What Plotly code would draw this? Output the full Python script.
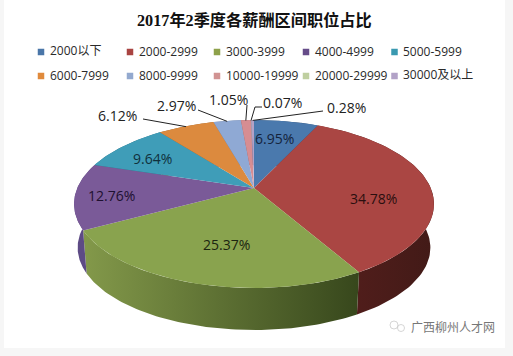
import numpy as np
import plotly.graph_objects as go

categories = ["2000以下", "2000-2999", "3000-3999", "4000-4999", "5000-5999",
              "6000-7999", "8000-9999", "10000-19999", "20000-29999", "30000及以上"]
shares = [6.95, 34.78, 25.37, 12.76, 9.64, 6.12, 2.97, 1.05, 0.07, 0.28]
top_colors = ["#4a79ad", "#aa4643", "#89a34e", "#7a5a98", "#3f9db8",
              "#dc8a3e", "#8fa9d4", "#d68d92", "#c3d69b", "#b2a2c7"]
legend_colors = ["#4a76a8", "#a94442", "#8ea14a", "#664c89", "#3a99b0",
                 "#e08a3c", "#93a9cf", "#d19392", "#bfcfa0", "#b2a2c7"]
side_scales = [
    ["#2f4c70", "#2f4c70"], ["#571f1d", "#421a17"], ["#83994a", "#37471c"],
    ["#5d4b85", "#5d4b85"], ["#2a6a7c", "#2a6a7c"], ["#96602a", "#96602a"],
    ["#64759a", "#64759a"], ["#96605f", "#96605f"], ["#8a9a6a", "#8a9a6a"], ["#7a7090", "#7a7090"],
]

CX, CY, A, B, P = 254.0, 188.0, 176.7, 81.0, 0.19
DROP, SHRINK = 44.0, 0.98


def project(theta, floor=False):
    u, v = np.sin(theta), np.cos(theta)
    w = 1 + P * v
    s = SHRINK if floor else 1.0
    return CX + s * A * u / w, CY + (DROP if floor else 0) - s * B * v / w


cum = np.concatenate([[0], np.cumsum(shares)]) / sum(shares) * 2 * np.pi
fig = go.Figure()

# page edge tint of the screenshot
for x0, y0, x1, y1 in [(0, 348, 513, 356), (505, 0, 513, 356), (0, 0, 4, 356)]:
    fig.add_shape(type="rect", x0=x0, y0=y0, x1=x1, y1=y1, fillcolor="#f6f6f6", line_width=0, layer="below")

for i in range(len(shares)):
    t = np.linspace(cum[i], cum[i + 1], 80)
    xt, yt = project(t)
    xb, yb = project(t[::-1], floor=True)
    fig.add_trace(go.Scatter(
        x=np.concatenate([xt, xb]), y=np.concatenate([yt, yb]), mode="lines", line_width=0,
        fill="toself", hoverinfo="skip", showlegend=False,
        fillgradient=dict(type="horizontal", colorscale=[[0, side_scales[i][0]], [1, side_scales[i][1]]]),
    ))
for i in range(len(shares)):
    t = np.linspace(cum[i], cum[i + 1], 80)
    xt, yt = project(t)
    fig.add_trace(go.Scatter(
        x=np.concatenate([[CX], xt, [CX]]), y=np.concatenate([[CY], yt, [CY]]),
        mode="lines", line=dict(width=0), fill="toself", fillcolor=top_colors[i],
        hoverinfo="skip", showlegend=False,
    ))

# leader lines: from slice rim to an elbow beside the label
elbows = {5: [(143, 119)], 6: [(198, 110)], 7: [(247, 105)], 8: [(255, 107), (262, 107)], 9: [(323, 111)]}
for i, pts in elbows.items():
    ax, ay = project((cum[i] + cum[i + 1]) / 2)
    xs = [float(ax) + 0.0] + [p[0] for p in pts]
    ys = [float(ay) + 0.5] + [p[1] for p in pts]
    fig.add_trace(go.Scatter(x=xs, y=ys, mode="lines", line=dict(color="#222", width=1),
                             hoverinfo="skip", showlegend=False))

# legend
legend_x = [41, 130, 217, 306, 394.5]
legend_y = [52, 76]
for i, name in enumerate(categories):
    lx, ly = legend_x[i % 5], legend_y[i // 5]
    fig.add_trace(go.Scatter(x=[lx], y=[ly], mode="markers", hoverinfo="skip", showlegend=False,
                             marker=dict(symbol="square", size=6.5, color=legend_colors[i])))
    cjk = any(ord(ch) > 127 for ch in name)
    fig.add_annotation(x=lx + 6.5, y=ly - (2 if cjk else 0.5), text=name, showarrow=False, xanchor="left", yanchor="middle",
                       font=dict(family="Open Sans, Noto Sans CJK SC", size=12, color="#2a2a2a"))

# value labels
label_pos = [(274, 138), (373, 198), (226, 244), (111, 195), (152, 158),
             (117, 115), (176, 105), (228, 99), (282, 102), (346, 107)]
label_col = ["#14233c", "#2a0f0f", "#1c2510", "#1e1030", "#10303c", "#222", "#222", "#222", "#222", "#222"]
for v, (lx, ly), c in zip(shares, label_pos, label_col):
    fig.add_annotation(x=lx, y=ly, text=f"{v:.2f}%", showarrow=False,
                       font=dict(family="Open Sans", size=14, color=c))

fig.add_annotation(x=254, y=20, text="<b>2017年2季度各薪酬区间职位占比</b>", showarrow=False,
                   font=dict(family="Liberation Serif, Noto Sans CJK SC", size=16.2, color="#111"))

# watermark
fig.add_trace(go.Scatter(x=[394, 401], y=[325, 328], mode="markers", hoverinfo="skip", showlegend=False,
                         marker=dict(symbol="circle-open", size=[8, 7], color="#c4c4c4", line=dict(width=1, color="#c4c4c4"))))
fig.add_annotation(x=409, y=326, text="广西柳州人才网", showarrow=False, xanchor="left",
                   font=dict(family="Noto Sans CJK SC", size=12, color="#777"))

fig.update_layout(
    width=513, height=356, margin=dict(l=0, r=0, t=0, b=0),
    paper_bgcolor="white", plot_bgcolor="rgba(0,0,0,0)", showlegend=False,
    xaxis=dict(range=[0, 513], visible=False, fixedrange=True),
    yaxis=dict(range=[356, 0], visible=False, fixedrange=True),
)
fig.write_html("out.html", config={"displayModeBar": False},
               post_script="document.body.style.margin='0';document.body.style.overflow='hidden';")
